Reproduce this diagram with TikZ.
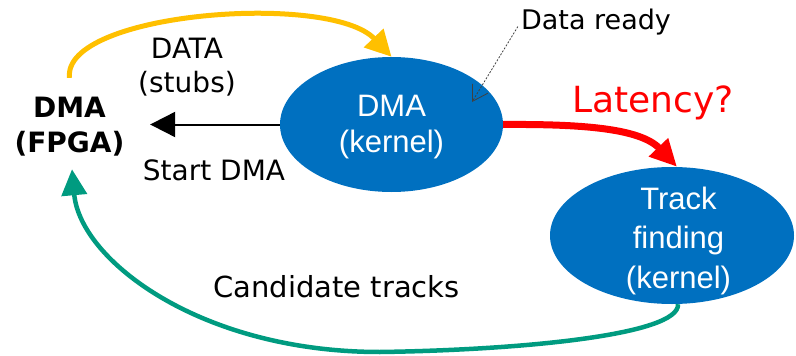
\documentclass[tikz,border=0pt]{standalone}
\usepackage{fontspec}
\setmainfont{DejaVu Sans}
\newfontfamily\arialf{Liberation Sans}
\usetikzlibrary{arrows.meta,shapes.geometric,calc}
\definecolor{kblue}{HTML}{0070C0}
\definecolor{kyel}{HTML}{FFC000}
\definecolor{kred}{HTML}{FF0000}
\definecolor{kteal}{HTML}{009B80}
\definecolor{kgray}{HTML}{404040}
\tikzset{
  kell/.style={ellipse, fill=kblue, draw=none, inner sep=0pt},
  ktxt/.style={text=white, align=center, inner sep=0pt, font=\arialf\fontsize{31}{36}\selectfont},
  lbl/.style={inner sep=0pt, text=black},
  yelarrow/.style={draw=kyel, line width=5pt, -{Triangle[length=26pt,width=26pt]}},
  blkarrow/.style={draw=black, line width=2pt, -{Triangle[length=25pt,width=25pt]}},
  redarrow/.style={draw=kred, line width=7pt, -{Triangle[length=27pt,width=25pt]}},
  tealarrow/.style={draw=kteal, line width=4.5pt, -{Triangle[length=26pt,width=25pt]}},
  dsharrow/.style={draw=kgray, line width=0.8pt, dash pattern=on 2pt off 1.5pt, -{Straight Barb[length=15pt,width=18pt]}},
}
\begin{document}
\begin{tikzpicture}[x=1pt,y=-1pt]
\useasboundingbox (0,0) rectangle (796,356);
% nodes
\node[kell, minimum width=223pt, minimum height=135pt] (dmak) at (391.5,124.5) {};
\node[ktxt] (dmakt) at (391.5,127) {DMA\\(kernel)};
\node[kell, minimum width=244pt, minimum height=137pt] (track) at (672,235.5) {};
\node[ktxt, font=\arialf\fontsize{31}{39.5}\selectfont] (trackt) at (678.5,240.7) {Track\\finding\\(kernel)};
\node[lbl, align=center, font=\bfseries\fontsize{28}{35}\selectfont] (fpga) at (69.5,126.2) {DMA\\(FPGA)};
\node[lbl, align=center, font=\fontsize{28}{34}\selectfont] (data) at (187,66.7) {DATA\\(stubs)};
\node[lbl, anchor=base, font=\fontsize{28}{34}\selectfont] (start) at (214,180) {Start DMA};
\node[lbl, anchor=base, font=\fontsize{29}{35}\selectfont] (cand) at (336.5,297) {Candidate tracks};
\node[lbl, anchor=base, font=\fontsize{27}{33}\selectfont] (ready) at (596,30) {Data ready};
\node[lbl, anchor=base, text=kred, font=\fontsize{36}{43}\selectfont] (lat) at (653,112) {Latency?};
\coordinate (dr) at (472,102);
% connectors
\draw[yelarrow] ([yshift=18.6pt]fpga.north) .. controls (62,12) and (330,-8) .. (dmak.north);
\draw[blkarrow] (dmak.west) -- ($(dmak.west -| fpga.east)+(25.5,0)$);
\draw[redarrow] (dmak.east) .. controls (580,124) and (640,128) .. ([xshift=5pt]track.north);
\draw[tealarrow] ([xshift=6pt]track.south) .. controls (680,335) and (520,350) .. (380,352)
   .. controls (200,352) and (80,260) .. ($(fpga.south)+(2.5,13.3)$);
\draw[dsharrow] ([shift={(-3pt,-4pt)}]ready.west) -- (dr);
\end{tikzpicture}
\end{document}
